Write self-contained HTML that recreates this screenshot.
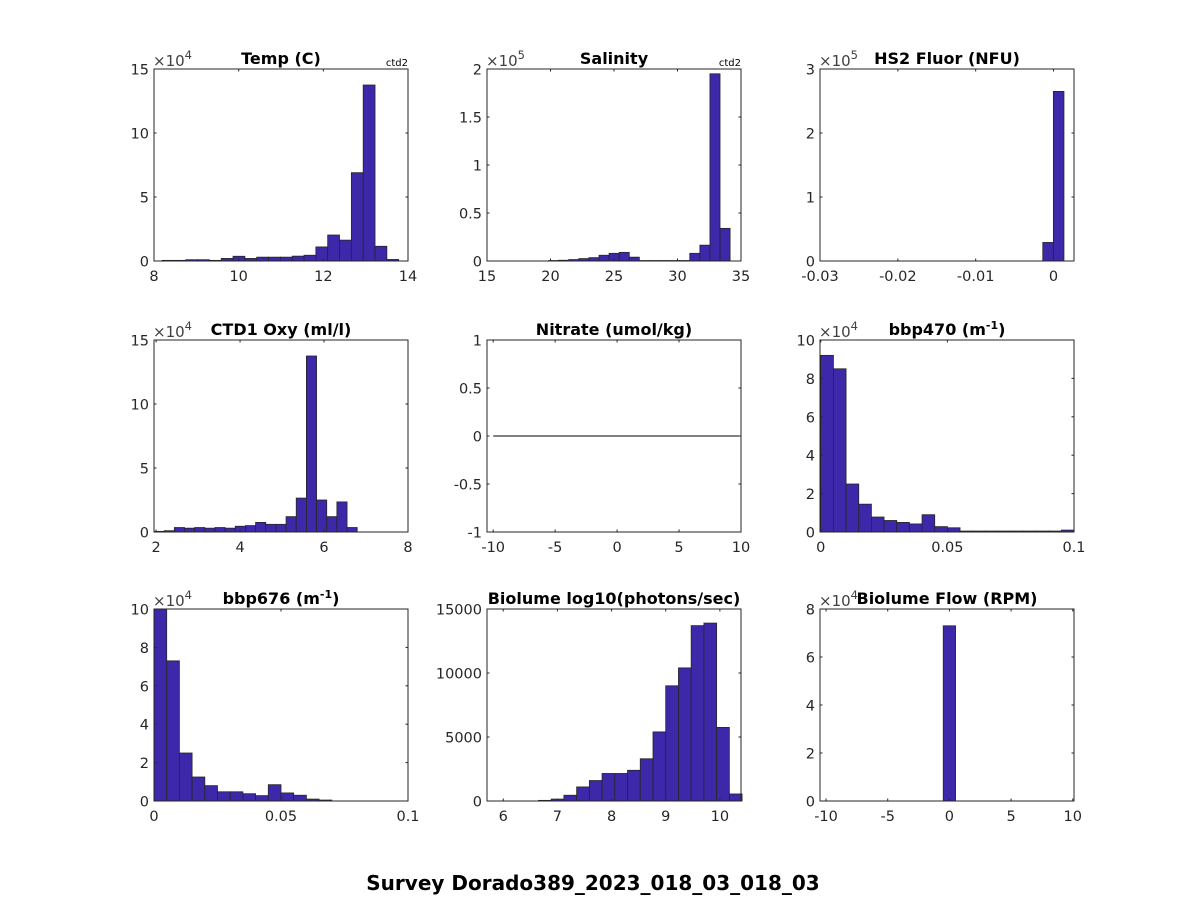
<!DOCTYPE html>
<html><head><meta charset="utf-8"><style>
html,body{margin:0;padding:0;background:#fff;}
svg{display:block;font-family:"DejaVu Sans","Liberation Sans",sans-serif;}
</style></head><body>
<svg id="fig" width="1188" height="900" viewBox="0 0 1188 900">
<rect width="1188" height="900" fill="#fff"/>
<text x="593" y="890" text-anchor="middle" font-size="20" font-weight="bold" fill="#000">Survey Dorado389_2023_018_03_018_03</text>
</svg>
<script>
// ---- data arrays ----
const tempStart = 8.19, tempWidth = 0.2795;
const tempCounts = [0.05,0.05,0.1,0.1,0.05,0.2,0.37,0.2,0.3,0.3,0.3,0.38,0.45,1.1,2.03,1.63,6.9,13.75,1.15,0.12];
const salStart = 19.85, salWidth = 0.794;
const salCounts = [0.005,0.008,0.015,0.025,0.035,0.06,0.08,0.09,0.04,0.005,0.005,0.005,0.005,0.005,0.08,0.165,1.95,0.34];
const hs2Start = -0.00138, hs2Width = 0.00136;
const hs2Counts = [0.29,2.65];
const oxyStart = 1.95, oxyWidth = 0.242;
const oxyCounts = [0.05,0.1,0.35,0.3,0.35,0.3,0.35,0.3,0.45,0.5,0.75,0.6,0.6,1.2,2.65,13.75,2.5,1.2,2.35,0.35];
const b470Start = 0, b470Width = 0.005;
const b470Counts = [9.2,8.5,2.5,1.45,0.78,0.6,0.5,0.42,0.9,0.28,0.22,0.05,0.05,0.05,0.05,0.05,0.05,0.05,0.05,0.1];
const b676Start = 0, b676Width = 0.005;
const b676Counts = [10,7.3,2.5,1.25,0.8,0.48,0.48,0.38,0.28,0.85,0.42,0.3,0.1,0.05];
const bioStart = 6.65, bioWidth = 0.235;
const bioCounts = [50,150,450,1100,1600,2150,2150,2400,3300,5400,9000,10400,13700,13900,5750,550];
const flowStart = -0.5, flowWidth = 1.0;
const flowCounts = [7.3];
const nitrateLine = [0];

const xTicksTemp=[8,10,12,14], yTicksTemp=[0,5,10,15];
const xTicksSal=[15,20,25,30,35], yTicksSal=[0,0.5,1,1.5,2];
const xTicksHs2=[-0.03,-0.02,-0.01,0], yTicksHs2=[0,1,2,3];
const xTicksOxy=[2,4,6,8], yTicksOxy=[0,5,10,15];
const xTicksNit=[-10,-5,0,5,10], yTicksNit=[-1,-0.5,0,0.5,1];
const xTicksB=[0,0.05,0.1], yTicksB=[0,2,4,6,8,10];
const xTicksBio=[6,7,8,9,10], yTicksBio=[0,5000,10000,15000];
const xTicksFlow=[-10,-5,0,5,10], yTicksFlow=[0,2,4,6,8];

const NS="http://www.w3.org/2000/svg";
const svg=document.getElementById('fig');
function mk(tag,attrs,parent){const e=document.createElementNS(NS,tag);for(const k in attrs)e.setAttribute(k,attrs[k]);(parent||svg).appendChild(e);return e;}

const cols=[154,487,820], rows=[69,340,609], W=254, H=192;

function panel(o){
  const L=cols[o.c], T=rows[o.r];
  const g=mk('g',{});
  
  
  const sx=v=>L+(v-o.xlim[0])/(o.xlim[1]-o.xlim[0])*W;
  const sy=v=>T+H-(v-o.ylim[0])/(o.ylim[1]-o.ylim[0])*H;
  mk('rect',{x:L,y:T,width:W,height:H,fill:'#fff'},g);
  if(o.counts){
    o.counts.forEach((c,i)=>{
      const x0=sx(o.start+i*o.width), x1=sx(o.start+(i+1)*o.width);
      const y=Math.max(sy(c),T);
      const b=mk('rect',{x:x0,y:y,width:x1-x0,height:sy(0)-y,fill:'#3c28a8',stroke:'#262626','stroke-width':0.8},g);
      
      
    });
  }
  if(o.line){
    o.line.forEach(v=>{
      const l=mk('line',{x1:sx(-10),x2:sx(10),y1:sy(v),y2:sy(v),stroke:'#000','stroke-width':1},g);
      
      
    });
  }
  mk('rect',{x:L,y:T,width:W,height:H,fill:'none',stroke:'#262626','stroke-width':1},g);
  o.xt.forEach(v=>{
    const x=sx(v);
    mk('line',{x1:x,x2:x,y1:T+H,y2:T+H-2.5,stroke:'#262626'},g);
    mk('line',{x1:x,x2:x,y1:T,y2:T+2.5,stroke:'#262626'},g);
    const t=mk('text',{x:x,y:T+H+20,'text-anchor':'middle','font-size':14.5,fill:'#262626'},g);
    t.textContent=String(v);
    
    
  });
  o.yt.forEach(v=>{
    const y=sy(v);
    mk('line',{x1:L,x2:L+2.5,y1:y,y2:y,stroke:'#262626'},g);
    mk('line',{x1:L+W,x2:L+W-2.5,y1:y,y2:y,stroke:'#262626'},g);
    const t=mk('text',{x:L-5,y:y+5.5,'text-anchor':'end','font-size':14.5,fill:'#262626'},g);
    t.textContent=String(v);
    
    
  });
  if(o.exp){
    const t=mk('text',{x:L-1,y:T-3,'font-size':15,fill:'#404040'},g);
    t.innerHTML='×10<tspan dy="-7" font-size="11.5">'+o.exp+'</tspan>';
    
    
  }
  const tt=mk('text',{x:L+W/2,y:T-5,'text-anchor':'middle','font-size':16,'font-weight':'bold',fill:'#000'},g);
  tt.innerHTML=o.title;
  
  
  if(o.ctd){
    const c=mk('text',{x:L+W,y:T-3,'text-anchor':'end','font-size':10,fill:'#000'},g);
    c.textContent='ctd2';
    
    
  }
}
const sup='(m<tspan dy="-6" font-size="11">-1</tspan><tspan dy="6">)</tspan>';
panel({name:'temp',c:0,r:0,xlim:[8,14],ylim:[0,15],start:tempStart,width:tempWidth,counts:tempCounts,xt:xTicksTemp,yt:yTicksTemp,exp:'4',title:'Temp (C)',ctd:true});
panel({name:'salinity',c:1,r:0,xlim:[15,35],ylim:[0,2],start:salStart,width:salWidth,counts:salCounts,xt:xTicksSal,yt:yTicksSal,exp:'5',title:'Salinity',ctd:true});
panel({name:'hs2-fluor',c:2,r:0,xlim:[-0.03,0.00263],ylim:[0,3],start:hs2Start,width:hs2Width,counts:hs2Counts,xt:xTicksHs2,yt:yTicksHs2,exp:'5',title:'HS2 Fluor (NFU)'});
panel({name:'ctd1-oxy',c:0,r:1,xlim:[1.95,8],ylim:[0,15],start:oxyStart,width:oxyWidth,counts:oxyCounts,xt:xTicksOxy,yt:yTicksOxy,exp:'4',title:'CTD1 Oxy (ml/l)'});
panel({name:'nitrate',c:1,r:1,xlim:[-10.5,10],ylim:[-1,1],line:nitrateLine,xt:xTicksNit,yt:yTicksNit,title:'Nitrate (umol/kg)'});
panel({name:'bbp470',c:2,r:1,xlim:[-0.0003,0.1],ylim:[0,10],start:b470Start,width:b470Width,counts:b470Counts,xt:xTicksB,yt:yTicksB,exp:'4',title:'bbp470 '+sup});
panel({name:'bbp676',c:0,r:2,xlim:[0,0.1],ylim:[0,10],start:b676Start,width:b676Width,counts:b676Counts,xt:xTicksB,yt:yTicksB,exp:'4',title:'bbp676 '+sup});
panel({name:'biolume',c:1,r:2,xlim:[5.7,10.39],ylim:[0,15000],start:bioStart,width:bioWidth,counts:bioCounts,xt:xTicksBio,yt:yTicksBio,title:'Biolume log10(photons/sec)'});
panel({name:'biolume-flow',c:2,r:2,xlim:[-10.49,10.1],ylim:[0,8],start:flowStart,width:flowWidth,counts:flowCounts,xt:xTicksFlow,yt:yTicksFlow,exp:'4',title:'Biolume Flow (RPM)'});
</script>
</body></html>
